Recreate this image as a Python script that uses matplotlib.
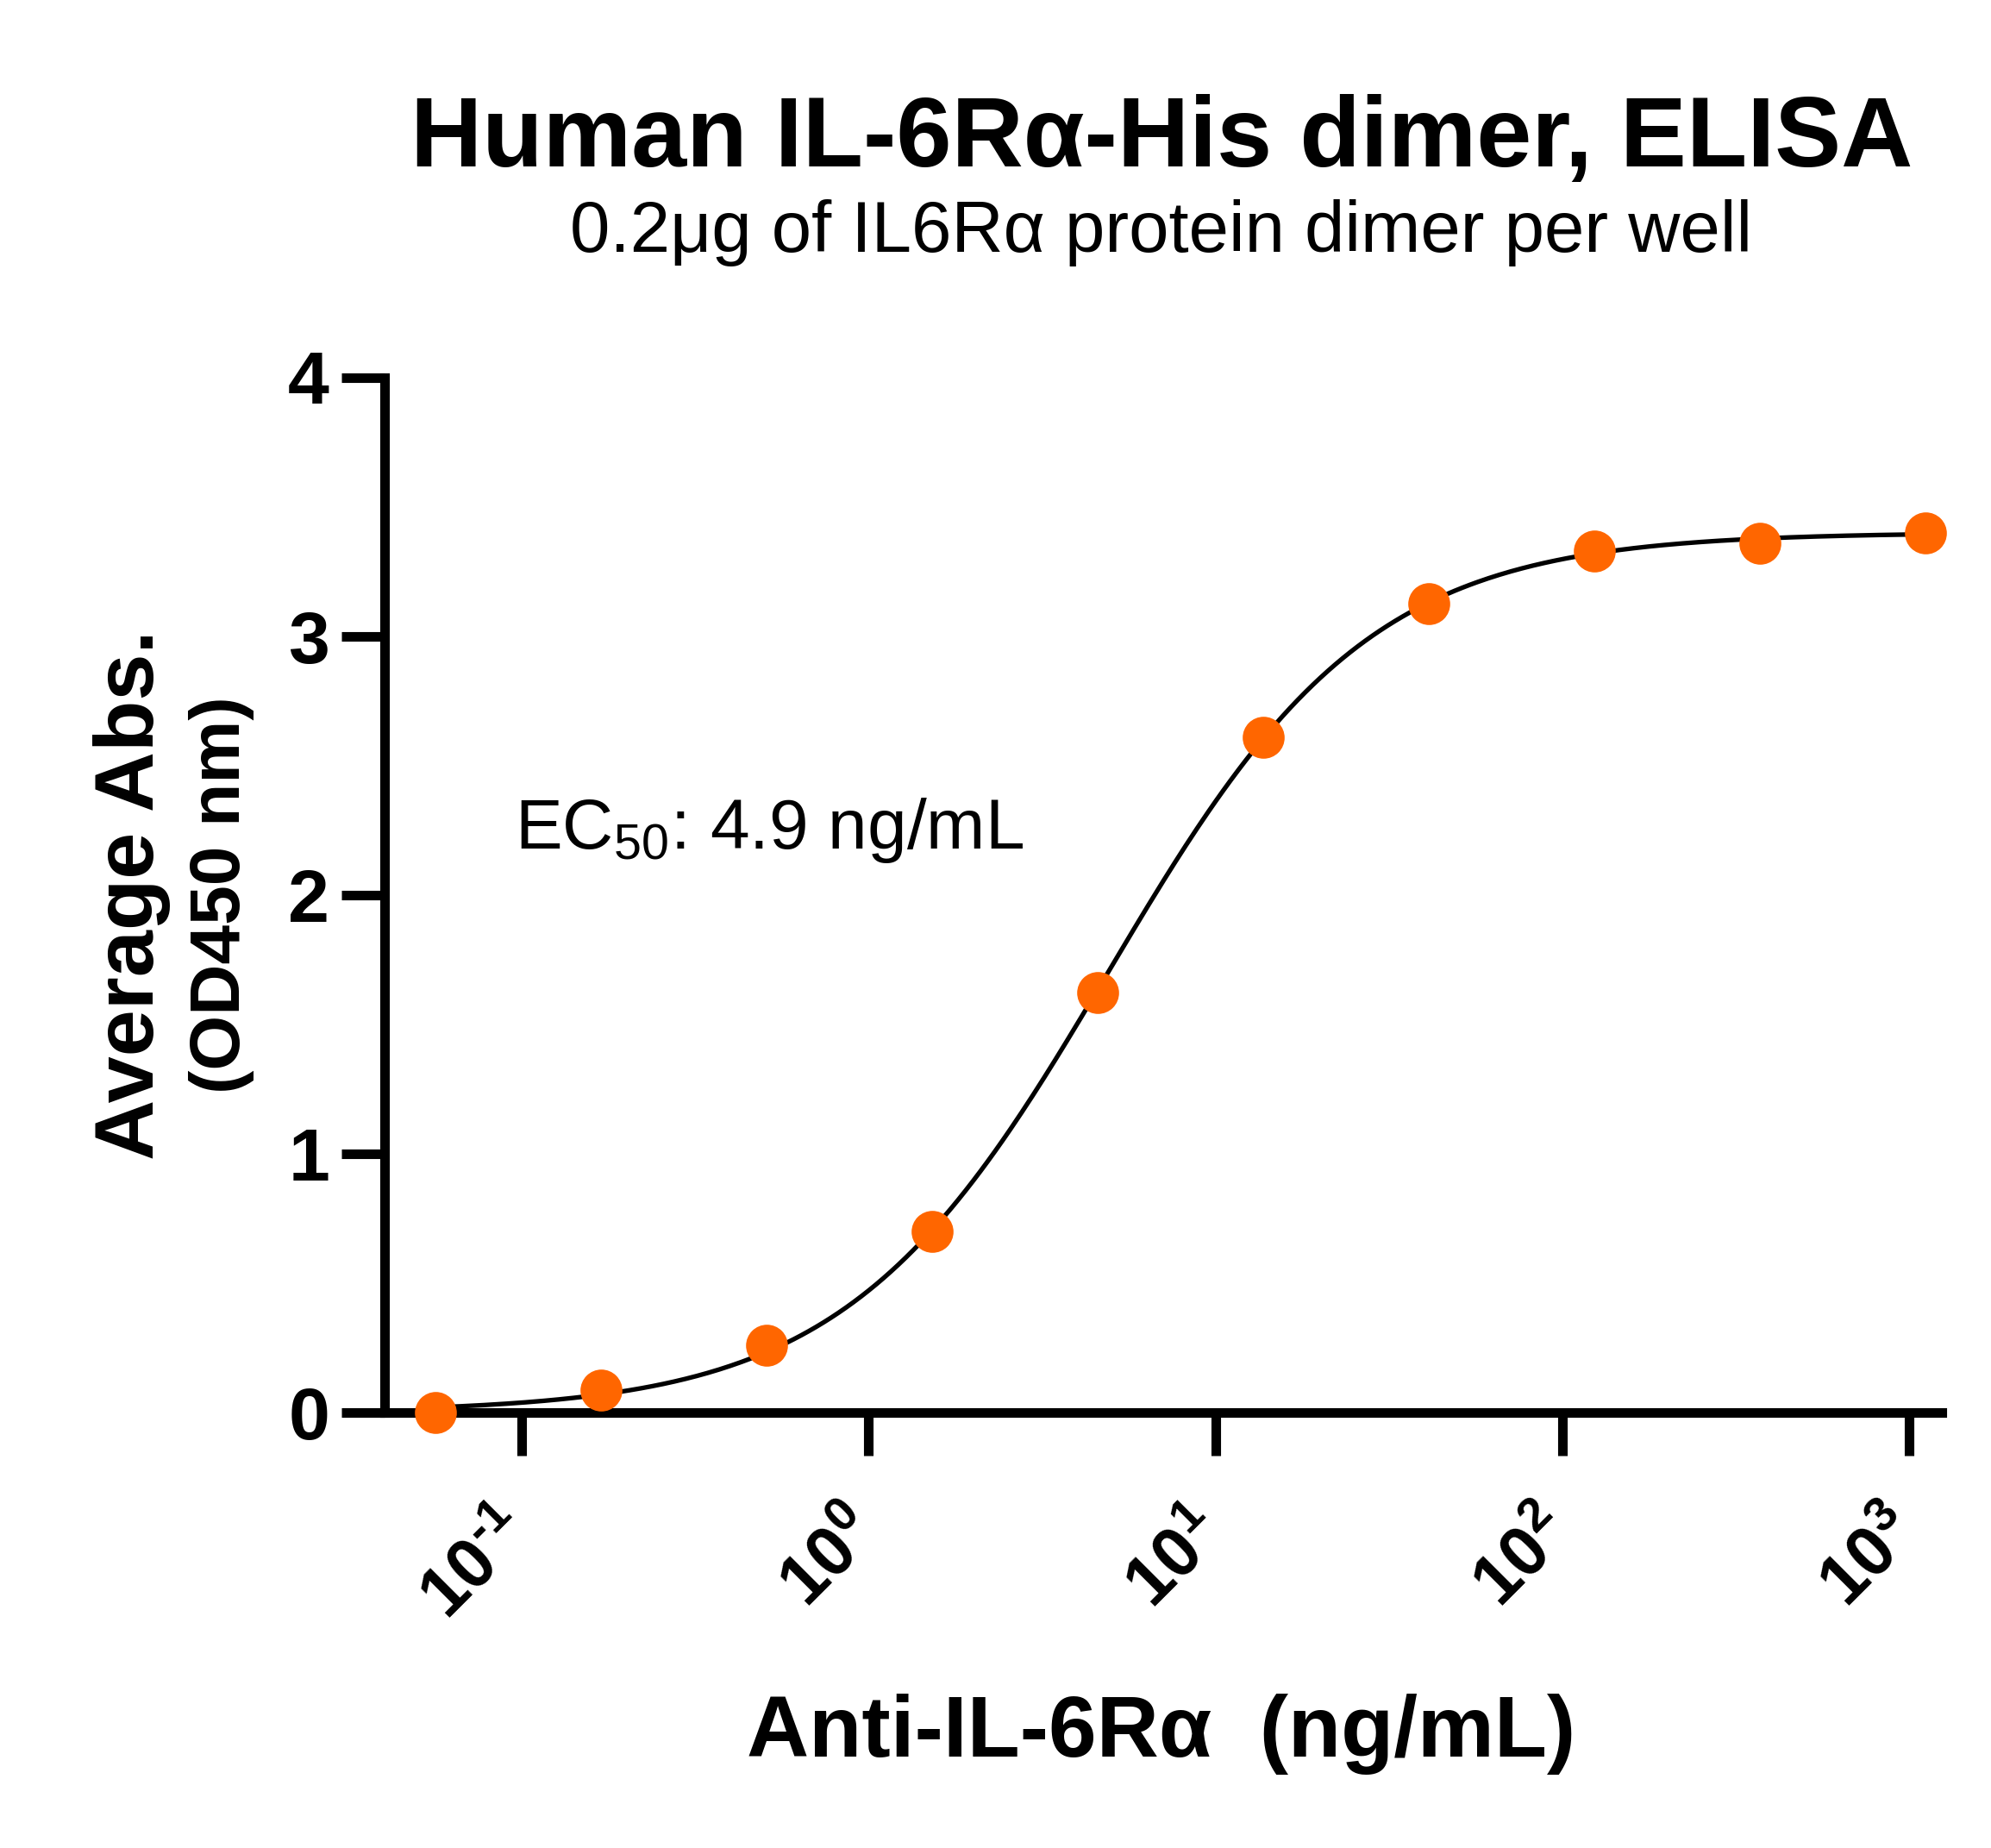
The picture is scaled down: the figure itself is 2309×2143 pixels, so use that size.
import numpy as np
import matplotlib
matplotlib.use("Agg")
import matplotlib.pyplot as plt
from matplotlib.transforms import ScaledTranslation

# ---- data ----
conc = [1111.1, 370.37, 123.46, 41.15, 13.72, 4.572, 1.524, 0.508, 0.1694, 0.05645]
absorb = [3.40, 3.36, 3.33, 3.125, 2.61, 1.623, 0.70, 0.26, 0.085, 0.0]
# 4PL fit parameters (bottom, top, EC50, hill)
fit_bottom = 0.0
fit_top = 3.40
fit_ec50 = 4.9
fit_hill = 1.15

title = "Human IL-6Rα-His dimer, ELISA"
subtitle = "0.2μg of IL6Rα protein dimer per well"
xlabel = "Anti-IL-6Rα  (ng/mL)"
ylabel1 = "Average Abs."
ylabel2 = "(OD450 nm)"
ec50_text = "EC$_{50}$: 4.9 ng/mL"
yticks = [0, 1, 2, 3, 4]
xticks = [0.1, 1, 10, 100, 1000]
xticklabels = ["$10^{\\text{-}1}$", "$10^{0}$", "$10^{1}$", "$10^{2}$", "$10^{3}$"]

plt.rcParams['font.family'] = ['Liberation Sans', 'DejaVu Sans']
plt.rcParams['mathtext.fontset'] = 'custom'
plt.rcParams['mathtext.rm'] = 'Liberation Sans:bold'
plt.rcParams['mathtext.default'] = 'regular'

W, H = 2309, 2143
fig = plt.figure(figsize=(W / 100, H / 100), dpi=100)

def fx(px):
    return px / W

def fy(py):
    return 1 - py / H

ax = fig.add_axes([fx(446), fy(1638), fx(2252) - fx(446), fy(437.5) - fy(1638)])
ax.set_xscale('log')
ax.set_xlim(10 ** -1.395, 10 ** 3.094)
ax.set_ylim(0, 4)

xfit = np.geomspace(min(conc), max(conc), 400)
yfit = fit_bottom + (fit_top - fit_bottom) / (1 + (fit_ec50 / xfit) ** fit_hill)
ax.plot(xfit, yfit, color='black', lw=3.8, zorder=2, clip_on=False)
ax.plot(conc, absorb, 'o', color='#FF6600', markersize=35, markeredgewidth=0,
        zorder=3, clip_on=False)

for s in ['top', 'right']:
    ax.spines[s].set_visible(False)
for s in ['left', 'bottom']:
    ax.spines[s].set_linewidth(8)
    ax.spines[s].set_capstyle('projecting')

ax.set_yticks(yticks)
ax.set_yticklabels([str(v) for v in yticks], fontsize=62, fontweight='bold')
ax.set_xticks(xticks)
ax.set_xticklabels(xticklabels, fontsize=58, fontweight='bold', rotation=45,
                   ha='right', va='top')
ax.xaxis.set_minor_locator(matplotlib.ticker.NullLocator())
ax.tick_params(axis='y', length=36, width=8, pad=10, direction='out')
ax.tick_params(axis='x', length=36, width=8, pad=27, direction='out')
shift = ScaledTranslation(0.25, -0.13, fig.dpi_scale_trans)
for lab in ax.get_xticklabels():
    lab.set_transform(lab.get_transform() + shift)

fig.text(fx(1347), fy(193), title, fontsize=83, fontweight='bold',
         ha='center', va='baseline')
fig.text(fx(1347), fy(292), subtitle, fontsize=60,
         ha='center', va='baseline')
fig.text(fx(1347), fy(2037), xlabel, fontsize=72, fontweight='bold',
         ha='center', va='baseline')
fig.text(fx(178), fy(1038), ylabel1, fontsize=70, fontweight='bold', rotation=90,
         rotation_mode='anchor', ha='center', va='baseline')
fig.text(fx(278), fy(1038), ylabel2, fontsize=59, fontweight='bold', rotation=90,
         rotation_mode='anchor', ha='center', va='baseline')
fig.text(fx(597), fy(984), ec50_text, fontsize=59, ha='left', va='baseline')

fig.savefig('out.png', dpi=100)
